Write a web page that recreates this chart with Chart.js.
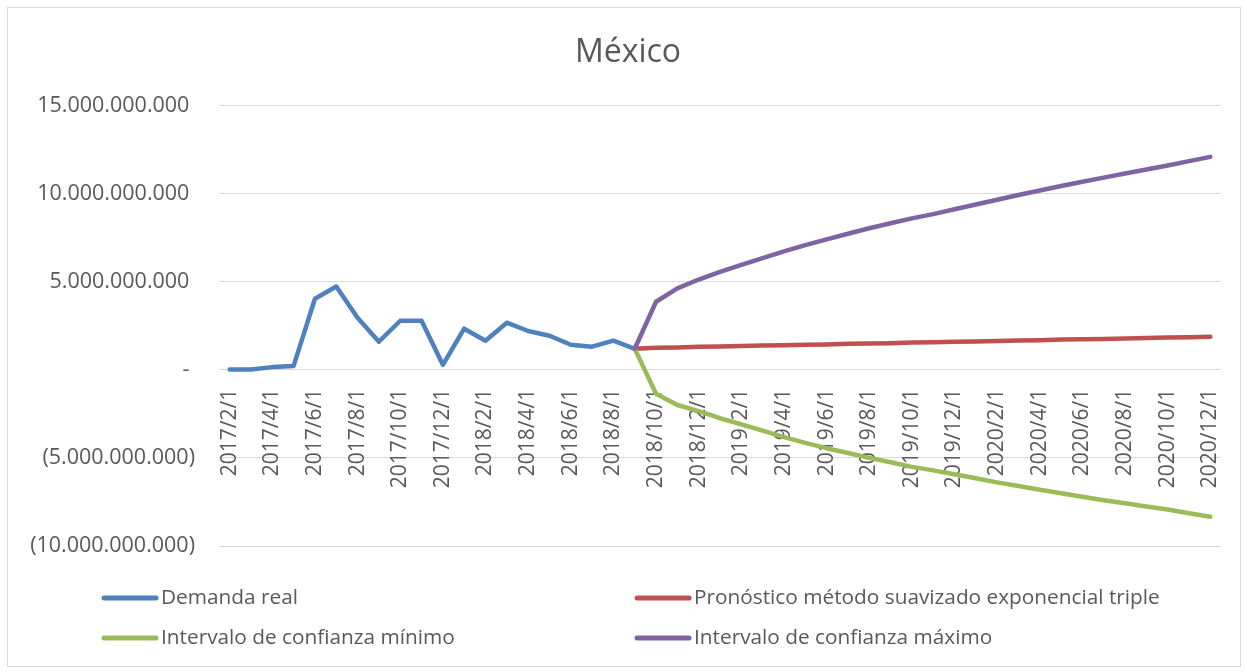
<!DOCTYPE html>
<html>
<head>
<meta charset="utf-8">
<script src="https://cdn.jsdelivr.net/npm/chart.js@4"></script>
<style>
  body { margin: 0; background: #fff; }
  #frame { position: absolute; left: 7px; top: 7px; width: 1232px; height: 658px; border: 1px solid #d9d9d9; }
  #chart { position: absolute; left: 0; top: 0; }
</style>
</head>
<body>
<div id="frame"></div>
<canvas id="chart" width="1247" height="672"></canvas>
<script>
// DATA
const months = [
  '2017/2/1', '2017/3/1', '2017/4/1', '2017/5/1', '2017/6/1', '2017/7/1', '2017/8/1', '2017/9/1',
  '2017/10/1', '2017/11/1', '2017/12/1', '2018/1/1', '2018/2/1', '2018/3/1', '2018/4/1', '2018/5/1',
  '2018/6/1', '2018/7/1', '2018/8/1', '2018/9/1', '2018/10/1', '2018/11/1', '2018/12/1', '2019/1/1',
  '2019/2/1', '2019/3/1', '2019/4/1', '2019/5/1', '2019/6/1', '2019/7/1', '2019/8/1', '2019/9/1',
  '2019/10/1', '2019/11/1', '2019/12/1', '2020/1/1', '2020/2/1', '2020/3/1', '2020/4/1', '2020/5/1',
  '2020/6/1', '2020/7/1', '2020/8/1', '2020/9/1', '2020/10/1', '2020/11/1', '2020/12/1'
];

// 2017/2/1 .. 2018/9/1
const demandaReal = [
  0.01e9, 0.01e9, 0.15e9, 0.22e9, 4.03e9, 4.72e9, 2.95e9, 1.59e9, 2.78e9, 2.78e9,
  0.28e9, 2.33e9, 1.65e9, 2.67e9, 2.2e9, 1.93e9, 1.42e9, 1.31e9, 1.65e9, 1.19e9
];

// 2018/9/1 .. 2020/12/1
const pronostico = [
  1.19e9, 1.25e9, 1.27e9, 1.30e9, 1.32e9, 1.35e9, 1.37e9, 1.39e9, 1.42e9, 1.44e9,
  1.47e9, 1.49e9, 1.51e9, 1.54e9, 1.56e9, 1.59e9, 1.61e9, 1.63e9, 1.66e9, 1.68e9,
  1.71e9, 1.73e9, 1.75e9, 1.78e9, 1.80e9, 1.83e9, 1.85e9, 1.87e9
];
const intervaloMin = [
  1.19e9, -1.36e9, -2.0e9, -2.35e9, -2.75e9, -3.1e9, -3.45e9, -3.82e9, -4.15e9, -4.45e9,
  -4.72e9, -5.0e9, -5.25e9, -5.51e9, -5.71e9, -5.93e9, -6.16e9, -6.39e9, -6.6e9, -6.81e9,
  -7.01e9, -7.21e9, -7.4e9, -7.58e9, -7.76e9, -7.93e9, -8.14e9, -8.34e9
];
const intervaloMax = [
  1.19e9, 3.86e9, 4.62e9, 5.12e9, 5.55e9, 5.95e9, 6.33e9, 6.72e9, 7.07e9, 7.4e9,
  7.72e9, 8.03e9, 8.31e9, 8.59e9, 8.83e9, 9.11e9, 9.38e9, 9.65e9, 9.92e9, 10.17e9,
  10.43e9, 10.67e9, 10.9e9, 11.14e9, 11.36e9, 11.59e9, 11.84e9, 12.08e9
];

const seriesNames = [
  'Demanda real',
  'Pronóstico método suavizado exponencial triple',
  'Intervalo de confianza mínimo',
  'Intervalo de confianza máximo'
];
const seriesColors = ['#4f81bd', '#c0504d', '#9bbb59', '#8064a2'];

const textColor = '#595959';
const fontFamily = "'Open Sans', sans-serif";

// pad series so they line up with the month labels
const forecastStart = months.indexOf('2018/9/1');
function padFront(values) {
  return new Array(forecastStart).fill(null).concat(values);
}
function padBack(values) {
  return values.concat(new Array(months.length - values.length).fill(null));
}

// FORMAT Y TICKS (Excel style: 15.000.000.000 / - / (5.000.000.000))
function formatTick(value) {
  if (value === 0) return '- ';
  const s = String(Math.abs(value)).replace(/\B(?=(\d{3})+(?!\d))/g, '.');
  return value < 0 ? '(' + s + ')' : s + ' ';
}

// LEGEND IN TWO COLUMNS
const legendGrid = {
  id: 'legendGrid',
  afterDraw(chart) {
    const ctx = chart.ctx;
    const cols = [102, 635];
    const rows = [598, 638];
    ctx.save();
    ctx.font = '20.8px ' + fontFamily;
    ctx.textBaseline = 'middle';
    ctx.textAlign = 'left';
    chart.data.datasets.forEach((ds, i) => {
      const x = cols[i % 2];
      const y = rows[Math.floor(i / 2)];
      ctx.strokeStyle = ds.borderColor;
      ctx.lineWidth = 5;
      ctx.lineCap = 'round';
      ctx.beginPath();
      ctx.moveTo(x + 2, y);
      ctx.lineTo(x + 54, y);
      ctx.stroke();
      ctx.fillStyle = textColor;
      ctx.fillText(ds.label, x + 59, y);
    });
    ctx.restore();
  }
};

function lineDataset(i, data, order) {
  return {
    label: seriesNames[i],
    data: data,
    borderColor: seriesColors[i],
    backgroundColor: seriesColors[i],
    borderWidth: 4.5,
    borderCapStyle: 'round',
    borderJoinStyle: 'round',
    pointRadius: 0,
    tension: 0,
    fill: false,
    order: order
  };
}

const ctx = document.getElementById('chart').getContext('2d');
const chart = new Chart(ctx, {
  type: 'line',
  data: {
    labels: months,
    datasets: [
      lineDataset(0, padBack(demandaReal), 3),
      lineDataset(1, padFront(pronostico), 2),
      lineDataset(2, padFront(intervaloMin), 1),
      lineDataset(3, padFront(intervaloMax), 0)
    ]
  },
  options: {
    responsive: false,
    animation: false,
    events: [],
    layout: { padding: { left: 19, right: 26, top: 0, bottom: 126 } },
    plugins: {
      legend: { display: false },
      tooltip: { enabled: false },
      title: {
        display: true,
        text: '\u2002México',
        color: textColor,
        font: { family: fontFamily, size: 32, weight: 'normal' },
        padding: { top: 34, bottom: 33 }
      }
    },
    scales: {
      x: {
        type: 'category',
        position: { y: 0 },
        offset: true,
        grid: { display: false, drawTicks: false },
        border: { display: false },
        ticks: {
          autoSkip: false,
          minRotation: 90,
          maxRotation: 90,
          padding: 19,
          color: textColor,
          font: { family: fontFamily, size: 21 },
          callback: (value, index) => index % 2 === 0 ? months[index] : ''
        },
        afterFit: (scale) => {
          scale.height = 0;
          scale.paddingLeft = 0;
          scale.paddingRight = 0;
        }
      },
      y: {
        min: -10e9,
        max: 15e9,
        grid: { color: '#d9d9d9', lineWidth: 1, drawTicks: false },
        border: { display: false },
        ticks: {
          stepSize: 5e9,
          padding: 24,
          color: textColor,
          font: { family: fontFamily, size: 21.5 },
          callback: (value) => formatTick(value)
        },
        afterFit: (scale) => { scale.width = 200; }
      }
    }
  },
  plugins: [legendGrid]
});
</script>
</body>
</html>
